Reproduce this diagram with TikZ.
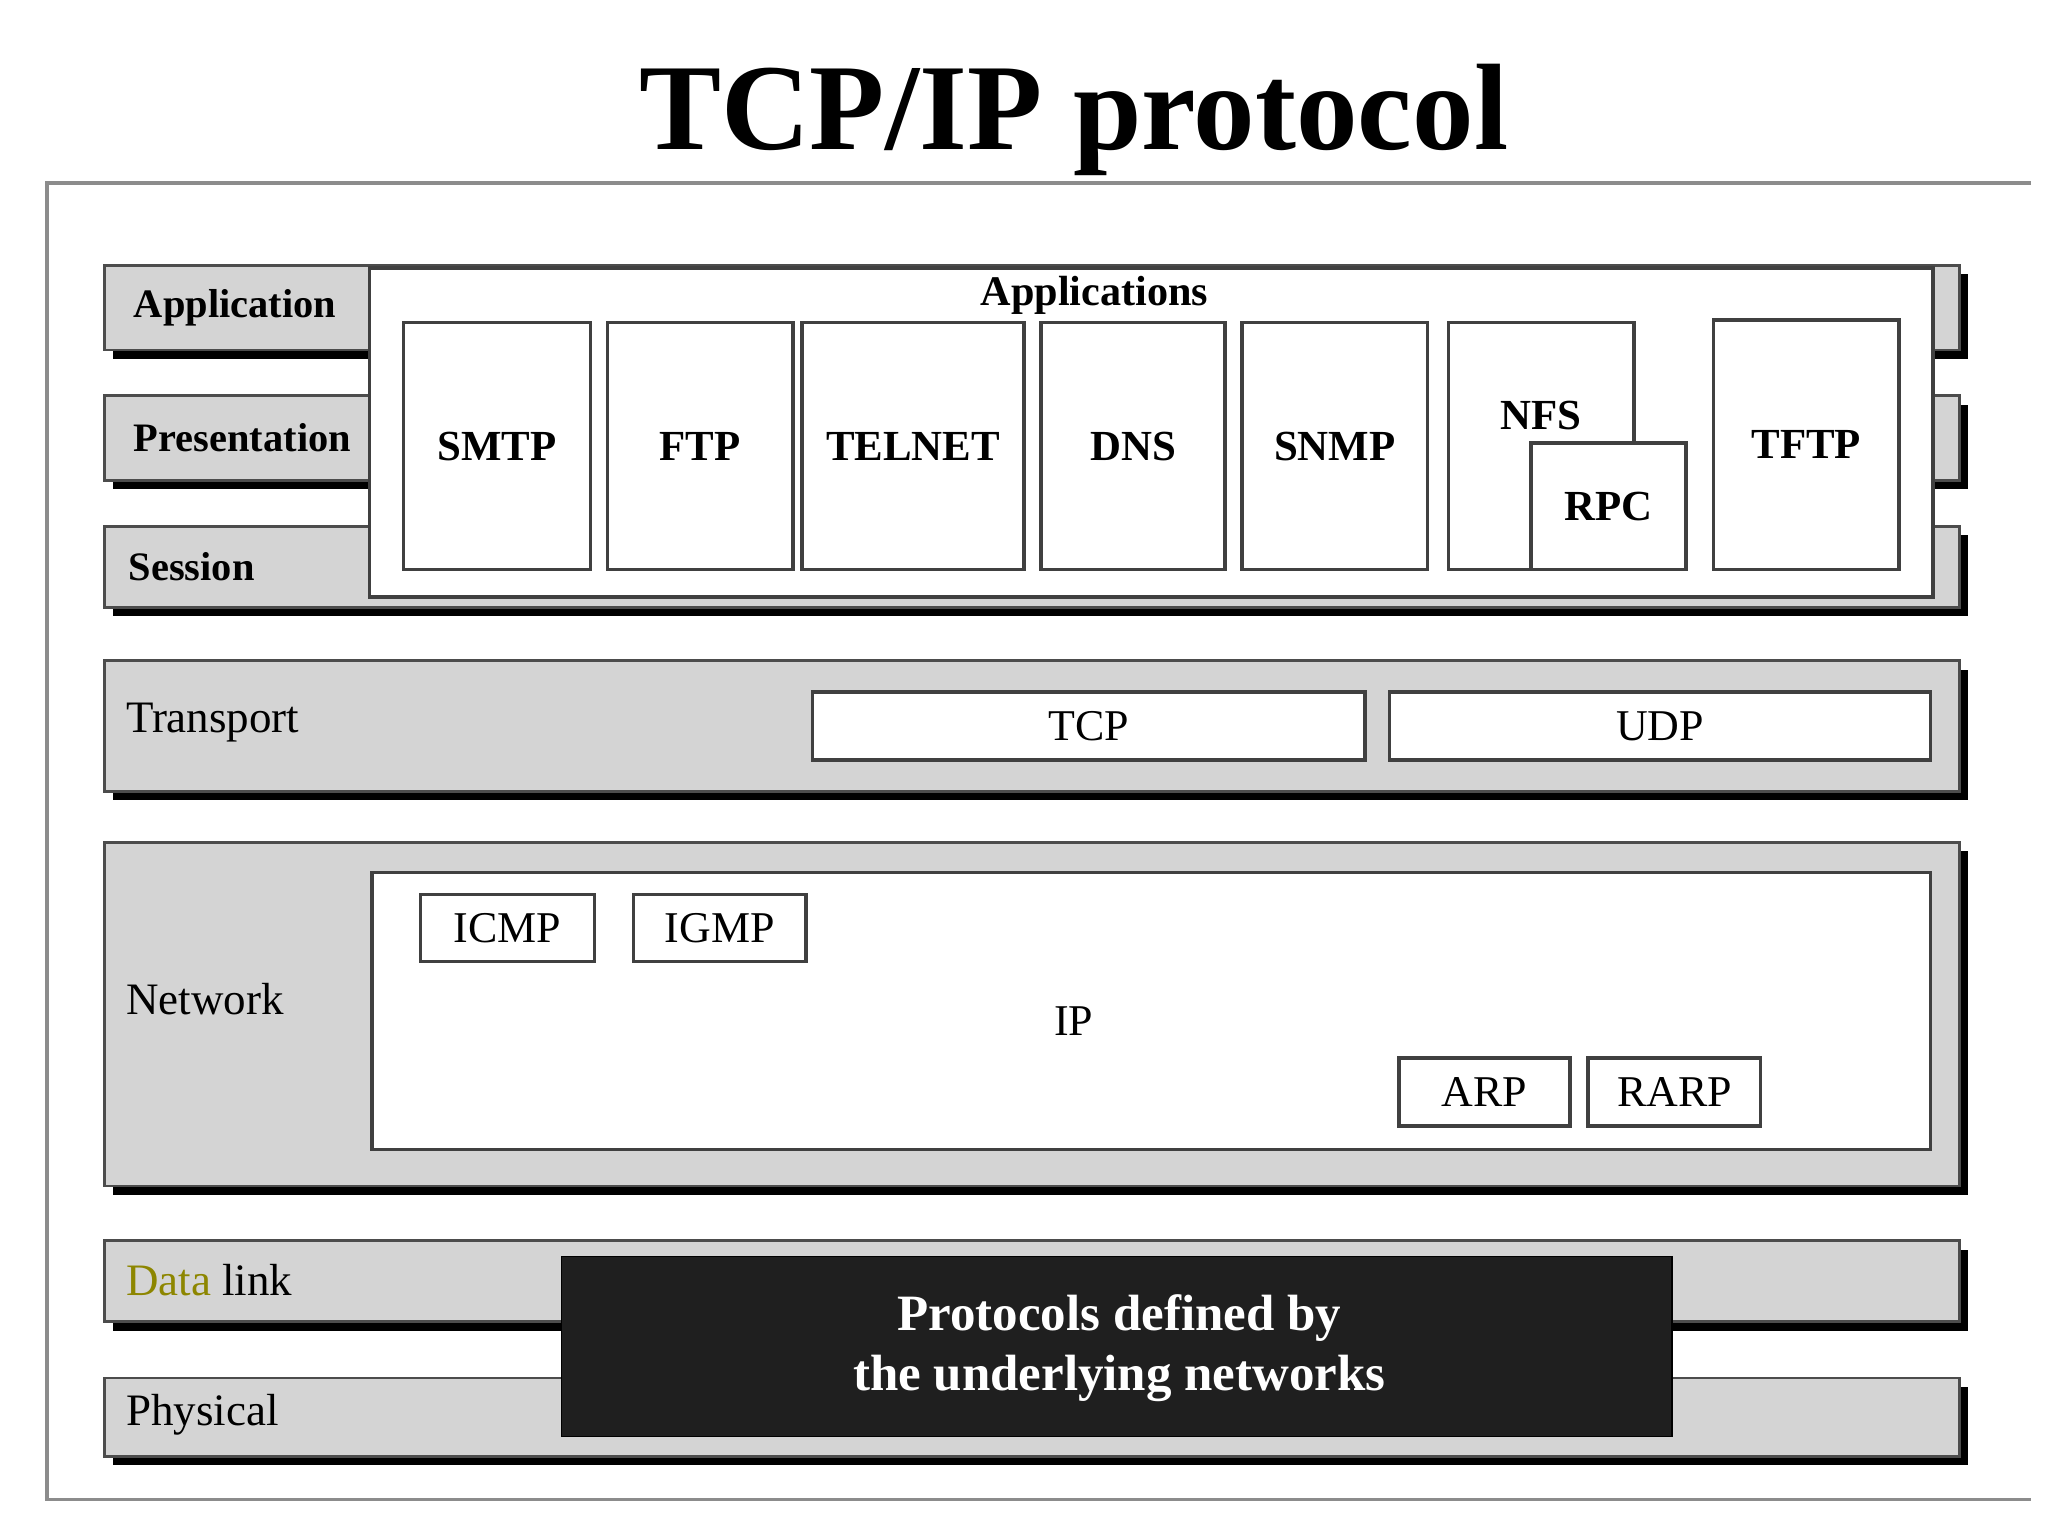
\documentclass[tikz,border=0pt]{standalone}
\usepackage{fontspec}
\setmainfont{Liberation Serif}
\usetikzlibrary{shadows}
\newcommand\bx[7]{%
\pgfmathsetmacro\bw{(#5-#3)*0.01306}\pgfmathsetmacro\bh{(#6-#4)*0.01306}%
\node[#1,anchor=north west,minimum width=\bw cm,minimum height=\bh cm] (#2) at (#3,#4) {#7};}
\tikzset{
 bar/.style={draw=black!70,line width=0.8pt,fill=black!17,inner sep=0pt,outer sep=0pt,
   drop shadow={shadow xshift=2.5pt,shadow yshift=-2.5pt,fill=black,opacity=1}},
 wbox/.style={draw=black!75,line width=1pt,fill=white,inner sep=0pt,outer sep=0pt,font=\fontsize{12.2}{14}\selectfont\bfseries},
 pbox/.style={draw=black!75,line width=1pt,fill=white,inner sep=0pt,outer sep=0pt,font=\fontsize{12.5}{14}\selectfont},
 lbl/.style={font=\fontsize{12.8}{15}\selectfont,anchor=west,inner sep=0pt},
 blbl/.style={font=\fontsize{11.5}{14}\selectfont\bfseries,anchor=west,inner sep=0pt},
 underbox/.style={fill=black!88,draw=black,inner sep=0pt,outer sep=0pt},
 undertext/.style={text=white,font=\fontsize{14.5}{17}\selectfont\bfseries,align=center},
}
\begin{document}
\begin{tikzpicture}[x=0.01306cm,y=-0.01306cm]
\useasboundingbox (0,0) rectangle (1568,1176);
\node[font=\fontsize{35}{40}\selectfont\bfseries] (title) at (822,92) {TCP/IP protocol};
\draw[black!45,line width=1pt] (1555,140) -- (36,140) -- (36,1148) -- (1555,1148);
% upper bars
\bx{bar}{appbar}{80}{203}{1500}{268}{}
\bx{bar}{presbar}{80}{303}{1500}{368}{}
\bx{bar}{sessbar}{80}{403}{1500}{465}{}
\node[blbl] (lapp) at (102,236) {Application};
\node[blbl] (lpres) at (102,335) {Presentation};
\node[blbl] (lsess) at (98,434) {Session};
\bx{wbox}{apps}{283}{205}{1480}{457}{}
\node[font=\fontsize{12}{14}\selectfont\bfseries] (appst) at (838,226) {Applications};
\bx{wbox}{smtp}{309}{247}{452}{436}{SMTP}
\bx{wbox}{ftp}{465}{247}{607}{436}{FTP}
\bx{wbox}{telnet}{614}{247}{784}{436}{TELNET}
\bx{wbox}{dns}{797}{247}{938}{436}{DNS}
\bx{wbox}{snmp}{951}{247}{1093}{436}{SNMP}
\bx{wbox}{nfs}{1109}{247}{1251}{436}{}
\node[font=\fontsize{12.2}{14}\selectfont\bfseries] (nfst) at (1180,318) {NFS};
\bx{wbox}{rpc}{1172}{339}{1291}{436}{RPC}
\bx{wbox}{tftp}{1312}{245}{1454}{436}{TFTP}
% transport
\bx{bar}{transbar}{80}{506}{1500}{606}{}
\node[lbl] (ltrans) at (96,553) {Transport};
\bx{pbox}{tcp}{622}{530}{1045}{582}{TCP}
\bx{pbox}{udp}{1064}{530}{1478}{582}{UDP}
% network
\bx{bar}{netbar}{80}{645}{1500}{908}{}
\node[lbl] (lnet) at (96,765) {Network};
\bx{pbox}{ip}{285}{668}{1478}{880}{}
\node[font=\fontsize{12.5}{14}\selectfont] (ipt) at (822,782) {IP};
\bx{pbox}{icmp}{322}{685}{455}{736}{ICMP}
\bx{pbox}{igmp}{485}{685}{617}{736}{IGMP}
\bx{pbox}{arp}{1071}{810}{1202}{862}{ARP}
\bx{pbox}{rarp}{1216}{810}{1348}{862}{RARP}
% lower
\bx{bar}{dlbar}{80}{950}{1500}{1012}{}
\node[lbl] (ldl) at (96,980) {\textcolor{olive}{Data} link};
\bx{bar}{phbar}{80}{1055}{1500}{1115}{}
\node[lbl] (lph) at (96,1083) {Physical};
\bx{underbox}{under}{430}{962}{1280}{1100}{}
\node[undertext] (undert) at (857,1032) {Protocols defined by\\the underlying networks};
\end{tikzpicture}
\end{document}
